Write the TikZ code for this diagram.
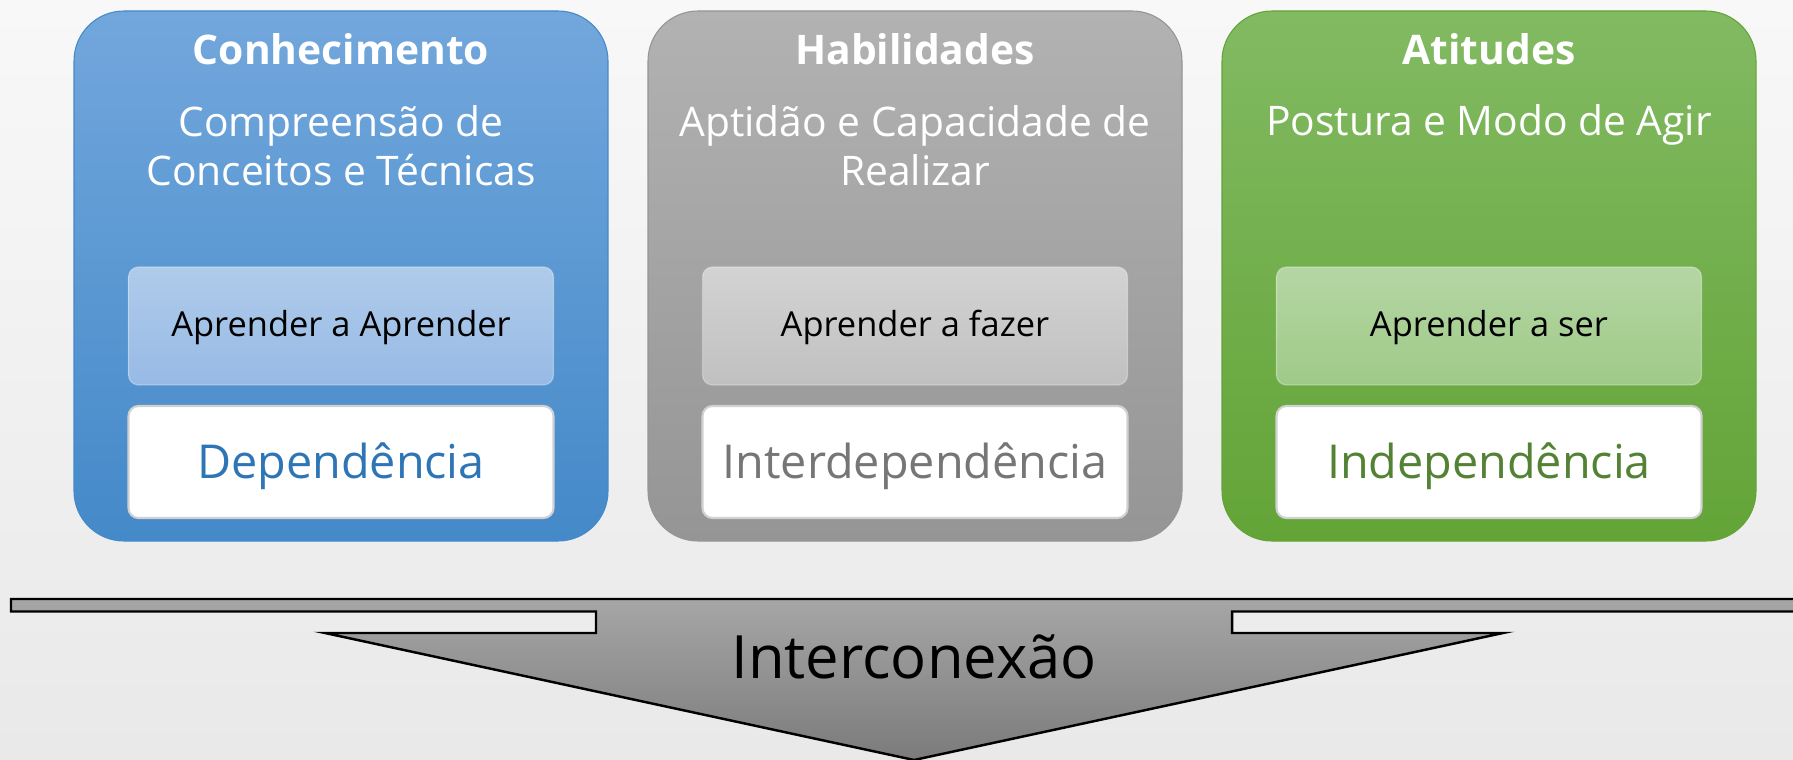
\documentclass[tikz,border=0pt]{standalone}
\usepackage{fontspec}
\setmainfont{Open Sans}
\definecolor{fundoA}{HTML}{F8F8F8}
\definecolor{fundoB}{HTML}{E9E9E9}
\definecolor{azulA}{HTML}{72A7DC}
\definecolor{azulB}{HTML}{4489C9}
\definecolor{azulC}{HTML}{AFCBEA}
\definecolor{azulD}{HTML}{97BAE5}
\definecolor{azulT}{HTML}{2E75B6}
\definecolor{cinzaA}{HTML}{B2B2B2}
\definecolor{cinzaB}{HTML}{959595}
\definecolor{cinzaC}{HTML}{D3D3D3}
\definecolor{cinzaD}{HTML}{C0C0C0}
\definecolor{cinzaT}{HTML}{767676}
\definecolor{verdeA}{HTML}{82BA62}
\definecolor{verdeB}{HTML}{63A437}
\definecolor{verdeC}{HTML}{B5D6A4}
\definecolor{verdeD}{HTML}{9FCA88}
\definecolor{verdeT}{HTML}{548235}
\definecolor{setaA}{HTML}{A6A6A6}
\definecolor{setaB}{HTML}{7B7B7B}
\begin{document}
\begin{tikzpicture}[
  pilar/.style={rounded corners=0.5cm, minimum width=5.34cm, minimum height=5.30cm, inner sep=0pt, line width=0.3pt},
  caixa/.style={rounded corners=0.1cm, minimum width=4.25cm, minimum height=1.18cm, inner sep=0pt, draw=white, draw opacity=0.3},
  branca/.style={rounded corners=0.1cm, minimum width=4.25cm, minimum height=1.12cm, inner sep=0pt, fill=white, draw=black!18, line width=0.6pt},
  titulo/.style={anchor=base, text=white, font=\bfseries\fontsize{11.6}{14}\selectfont},
  texto/.style={anchor=base, align=center, text=white, font=\fontsize{11.6}{14.2}\selectfont},
  frase/.style={anchor=base, font=\fontsize{9.8}{12}\selectfont},
  grande/.style={anchor=base, font=\fontsize{13.3}{16}\selectfont}
]
 \useasboundingbox (0,0) rectangle (17.93,7.59);
 \fill[top color=fundoA, bottom color=fundoB] (0,0) rectangle (17.93,7.59);

 \node[pilar, top color=azulA, bottom color=azulB, draw=azulB] (conhecimento) at (3.41,4.83) {};
 \node[titulo] (tconhecimento) at (3.41,6.94) {Conhecimento};
 \node[texto] (dconhecimento) at (3.41,5.73) {Compreensão de\\Conceitos e Técnicas};
 \node[caixa, top color=azulC, bottom color=azulD] (aconhecimento) at (3.41,4.33) {};
 \node[frase] at (3.41,4.22) {Aprender a Aprender};
 \node[branca] (bconhecimento) at (3.41,2.97) {};
 \node[grande, text=azulT] at (3.41,2.80) {Dependência};

 \node[pilar, top color=cinzaA, bottom color=cinzaB, draw=cinzaB] (habilidades) at (9.15,4.83) {};
 \node[titulo] (thabilidades) at (9.15,6.94) {Habilidades};
 \node[texto] (dhabilidades) at (9.15,5.73) {Aptidão e Capacidade de\\Realizar};
 \node[caixa, top color=cinzaC, bottom color=cinzaD] (ahabilidades) at (9.15,4.33) {};
 \node[frase] at (9.15,4.22) {Aprender a fazer};
 \node[branca] (bhabilidades) at (9.15,2.97) {};
 \node[grande, text=cinzaT] at (9.15,2.80) {Interdependência};

 \node[pilar, top color=verdeA, bottom color=verdeB, draw=verdeB] (atitudes) at (14.89,4.83) {};
 \node[titulo] (tatitudes) at (14.89,6.94) {Atitudes};
 \node[texto] (datitudes) at (14.89,6.23) {Postura e Modo de Agir};
 \node[caixa, top color=verdeC, bottom color=verdeD] (aatitudes) at (14.89,4.33) {};
 \node[frase] at (14.89,4.22) {Aprender a ser};
 \node[branca] (batitudes) at (14.89,2.97) {};
 \node[grande, text=verdeT] at (14.89,2.80) {Independência};

 \draw[line width=0.7pt, top color=setaA, bottom color=setaB] (0.11,1.60) -- (18.17,1.60) -- (18.17,1.475) -- (12.32,1.475) -- (12.32,1.26) -- (15.03,1.26) -- (9.14,-0.01) -- (3.25,1.26) -- (5.96,1.26) -- (5.96,1.475) -- (0.11,1.475) -- cycle;
 \node[anchor=base, font=\fontsize{17}{20}\selectfont] (interconexao) at (9.14,0.81) {Interconexão};
\end{tikzpicture}
\end{document}
